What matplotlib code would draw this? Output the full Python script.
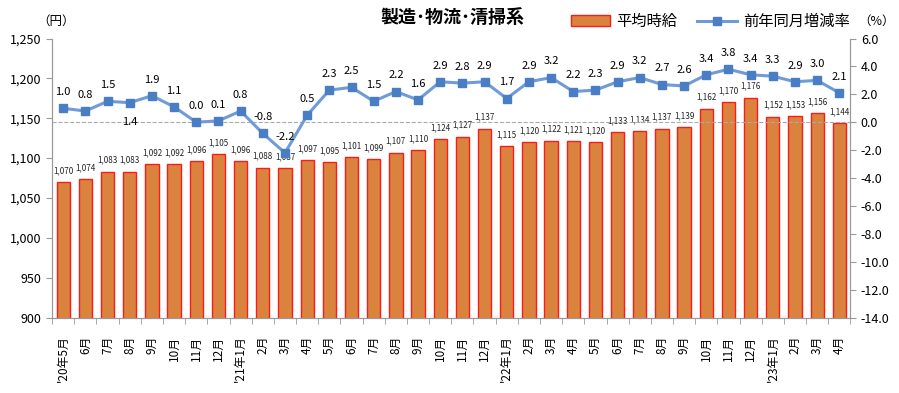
import matplotlib.pyplot as plt
from matplotlib.patches import Patch
from matplotlib.lines import Line2D
import numpy as np

plt.rcParams['font.family'] = ['Noto Sans CJK JP', 'DejaVu Sans']

# months from 2020/5 to 2023/4
months = ["'20年5月", "6月", "7月", "8月", "9月", "10月", "11月", "12月",
          "'21年1月", "2月", "3月", "4月", "5月", "6月", "7月", "8月", "9月", "10月", "11月", "12月",
          "'22年1月", "2月", "3月", "4月", "5月", "6月", "7月", "8月", "9月", "10月", "11月", "12月",
          "'23年1月", "2月", "3月", "4月"]

# average hourly wage (yen)
wage = [1070, 1074, 1083, 1083, 1092, 1092, 1096, 1105, 1096, 1088, 1087, 1097,
        1095, 1101, 1099, 1107, 1110, 1124, 1127, 1137, 1115, 1120, 1122, 1121,
        1120, 1133, 1134, 1137, 1139, 1162, 1170, 1176, 1152, 1153, 1156, 1144]

# year-on-year change (%)
yoy = [1.0, 0.8, 1.5, 1.4, 1.9, 1.1, 0.0, 0.1, 0.8, -0.8, -2.2, 0.5,
       2.3, 2.5, 1.5, 2.2, 1.6, 2.9, 2.8, 2.9, 1.7, 2.9, 3.2, 2.2,
       2.3, 2.9, 3.2, 2.7, 2.6, 3.4, 3.8, 3.4, 3.3, 2.9, 3.0, 2.1]

x = np.arange(len(months))

fig = plt.figure(figsize=(8.99, 3.93), dpi=100)
ax = fig.add_axes([0.058, 0.192, 0.888, 0.71])
ax2 = ax.twinx()

# bars
ax.bar(x, wage, width=0.6, color='#DA833E', edgecolor='#FF1A1A', linewidth=1.0, zorder=2)
for i, v in enumerate(wage):
    ax.annotate(f"{v:,}", (x[i], v), xytext=(0, 5), textcoords='offset points',
                ha='center', va='bottom', fontsize=5.8, color='#222222')

ax.set_ylim(900, 1250)
ax.set_yticks(np.arange(900, 1251, 50))
ax.set_yticklabels([f"{t:,}" for t in range(900, 1251, 50)], fontsize=9)
ax.set_xlim(-0.5, len(months) - 0.5)
ax.set_xticks(x)
ax.set_xticklabels(months, rotation=90, fontsize=8.5)
ax.tick_params(axis='x', length=0, pad=13)
ax.set_xticks(np.arange(-0.5, len(months), 1), minor=True)
ax.tick_params(axis='x', which='minor', length=4, color='#999999')
ax.tick_params(axis='y', length=4, color='#999999')

# line on secondary axis
ax2.axhline(0, color='#AAAAAA', linestyle='--', linewidth=0.8, zorder=1)
ax2.plot(x, yoy, color='#6F9BD8', linewidth=2.2, marker='s', markersize=6,
         markerfacecolor='#4A7EC4', markeredgecolor='#4A7EC4', zorder=3)
for i, v in enumerate(yoy):
    if i == 3:
        ax2.annotate(f"{v:.1f}", (x[i], v), xytext=(0, -10), textcoords='offset points',
                     ha='center', va='top', fontsize=8)
    else:
        ax2.annotate(f"{v:.1f}", (x[i], v), xytext=(0, 8), textcoords='offset points',
                     ha='center', va='bottom', fontsize=8)
ax2.set_ylim(-14, 6)
ax2.set_yticks(np.arange(-14, 6.1, 2))
ax2.set_yticklabels([f"{t:.1f}" for t in np.arange(-14, 6.1, 2)], fontsize=9)
ax2.tick_params(axis='y', length=4, color='#999999')

for a in (ax, ax2):
    a.spines['top'].set_visible(False)
    for s in ('left', 'right', 'bottom'):
        a.spines[s].set_color('#999999')

ax.patch.set_visible(False)
ax2.patch.set_visible(False)
ax.set_zorder(1)
ax2.set_zorder(2)

# title and units
fig.text(0.503, 0.955, "製造･物流･清掃系", ha='center', va='center', fontsize=13, fontweight='bold')
fig.text(0.042, 0.945, "（円）", ha='left', va='center', fontsize=9)
fig.text(0.955, 0.945, "（%）", ha='left', va='center', fontsize=9)

# legend
handles = [Patch(facecolor='#DA833E', edgecolor='#FF1A1A', label='平均時給'),
           Line2D([0], [0], color='#6F9BD8', linewidth=2.2, marker='s', markersize=6,
                  markerfacecolor='#4A7EC4', markeredgecolor='#4A7EC4', label='前年同月増減率')]
fig.legend(handles=handles, loc='center', bbox_to_anchor=(0.79, 0.945), ncol=2, frameon=False,
           fontsize=11, handlelength=2.6, columnspacing=1.3, handletextpad=0.4)

fig.savefig('out.png', dpi=100)
